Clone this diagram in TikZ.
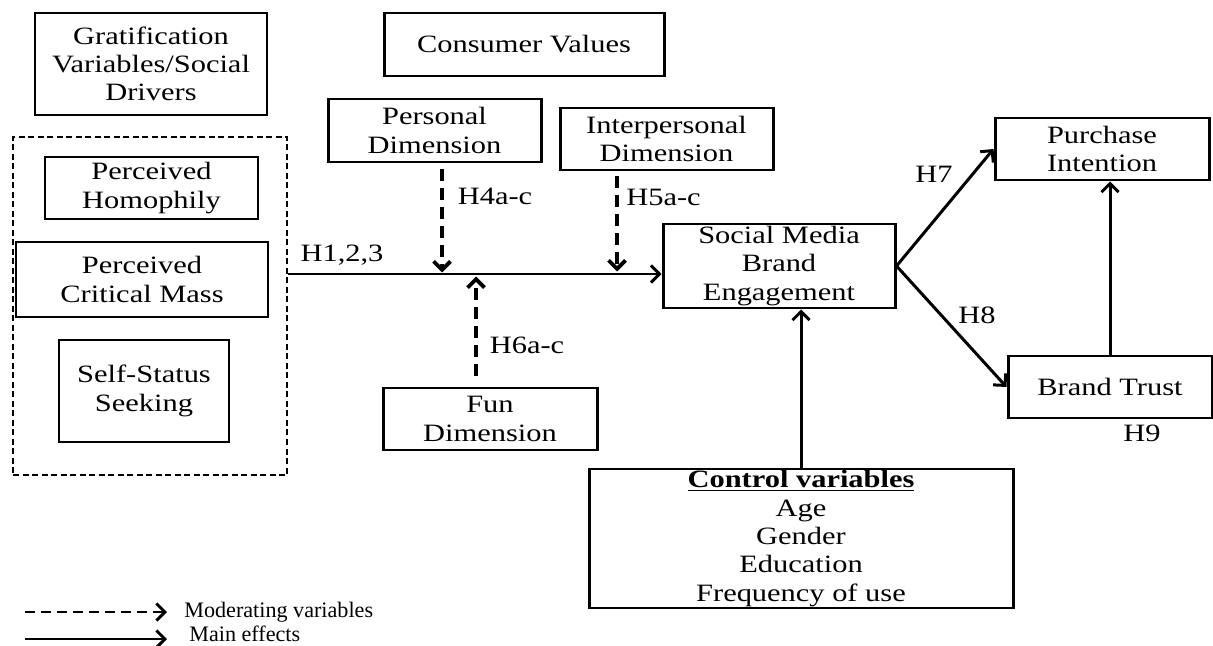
\documentclass[tikz,border=0pt]{standalone}
\usepackage{fontspec}
\setmainfont{Liberation Serif}[FakeStretch=1.22]
\newfontfamily\legendfont{Liberation Serif}
\usepackage{tikz}
\usetikzlibrary{arrows.meta}
\usetikzlibrary{positioning,calc}
\tikzset{
  every node/.style={font=\rmfamily}
}

\begin{document}
\begin{tikzpicture}
  \tikzset{
    box/.style={
      draw,
      line width=1.7pt,
      align=center,
      inner sep=0pt,
      font=\fontsize{14.2pt}{16.1pt}\selectfont
    },
    groupbox/.style={
      draw,
      line width=1.3pt,
      dash pattern=on 0.12cm off 0.07cm,
      inner sep=0pt
    },
    mainarrow/.style={
      line width=1.7pt,
      -{Straight Barb[length=1.7mm, width=3.4mm]}
    },
    modarrow/.style={
      line width=2.2pt,
      dash pattern=on 0.24cm off 0.14cm,
      -{Straight Barb[length=1.7mm, width=3.4mm]}
    },
    hyplabel/.style={
      font=\fontsize{14.2pt}{16.1pt}\selectfont,
      inner sep=0pt
    },
    legendtext/.style={
      font=\legendfont\fontsize{12.6pt}{14pt}\selectfont,
      anchor=base west,
      inner sep=0pt
    }
  }
  \useasboundingbox (0,0) rectangle (24.26,12.9);

  % Gratification variables / social drivers
  \node[box, minimum width=4.64cm, minimum height=2.04cm] (grat) at (3.02,11.62) {Gratification\\Variables/Social\\Drivers};
  \node[groupbox, minimum width=5.48cm, minimum height=6.76cm] (drivers) at (3.00,6.78) {};
  \node[box, minimum width=4.26cm, minimum height=1.24cm] (homophily) at (3.03,9.14) {Perceived\\Homophily};
  \node[box, minimum width=5.04cm, minimum height=1.5cm] (critmass) at (2.84,7.31) {Perceived\\Critical Mass};
  \node[box, minimum width=3.4cm, minimum height=2.04cm] (selfstatus) at (2.88,5.08) {Self-Status\\Seeking};

  % Consumer values
  \node[box, minimum width=5.6cm, minimum height=1.26cm] (values) at (10.48,12.01) {Consumer Values};
  \node[box, minimum width=4.26cm, minimum height=1.26cm] (personal) at (8.69,10.29) {Personal\\Dimension};
  \node[box, minimum width=4.26cm, minimum height=1.24cm] (interpersonal) at (13.33,10.12) {Interpersonal\\Dimension};
  \node[box, minimum width=4.28cm, minimum height=1.24cm] (fun) at (9.80,4.52) {Fun\\Dimension};

  % Outcomes
  \node[box, minimum width=4.64cm, minimum height=1.68cm] (smbe) at (15.58,7.58) {Social Media\\Brand\\Engagement};
  \node[box, minimum width=4.28cm, minimum height=1.24cm] (purchase) at (22.04,9.92) {Purchase\\Intention};
  \node[box, minimum width=4.08cm, minimum height=1.24cm] (trust) at (22.2,5.16) {Brand Trust};
  \node[box, minimum width=8.48cm, minimum height=2.78cm] (control) at (16.02,2.13) {\underline{\textbf{Control variables}}\\Age\\Gender\\Education\\Frequency of use};

  % Main effects
  \coordinate (mainy) at (0,7.42);
  \draw[mainarrow] (drivers.east |- mainy) -- (smbe.west |- mainy);
  \draw[mainarrow] (smbe.east) -- (purchase.west);
  \draw[mainarrow] (smbe.east) -- (trust.west);
  \draw[mainarrow] (trust.north) -- (trust.north |- purchase.south);
  \draw[mainarrow] (control.north) -- (control.north |- smbe.south);

  % Moderating effects
  \coordinate (h4end) at (8.84,7.45);
  \coordinate (h5end) at (12.34,7.47);
  \coordinate (h6end) at (9.52,7.37);
  \draw[modarrow] ([yshift=-0.12cm]personal.south -| h4end) -- (h4end);
  \draw[modarrow] ([yshift=-0.1cm]interpersonal.south -| h5end) -- (h5end);
  \draw[modarrow] ([yshift=0.22cm]fun.north -| h6end) -- (h6end);

  % Hypotheses
  \node[hyplabel] (h123) at (6.84,7.8) {H1,2,3};
  \node[hyplabel] (h4) at (9.9,8.98) {H4a-c};
  \node[hyplabel] (h5) at (13.27,8.96) {H5a-c};
  \node[hyplabel] (h6) at (10.54,6.0) {H6a-c};
  \node[hyplabel] (h7) at (18.68,9.42) {H7};
  \node[hyplabel] (h8) at (19.54,6.6) {H8};
  \node[hyplabel] (h9) at (22.84,4.24) {H9};

  % Legend
  \coordinate (legdash) at (0.5,0.66);
  \coordinate (legsolid) at (0.5,0.12);
  \node[legendtext] (legmod) at (3.68,0.56) {Moderating variables};
  \node[legendtext] (legmain) at (3.78,0.08) {Main effects};
  \draw[mainarrow, dash pattern=on 0.19cm off 0.13cm] (legdash) -- ([xshift=-0.34cm]legmod.west |- legdash);
  \draw[mainarrow] (legsolid) -- ([xshift=-0.44cm]legmain.west |- legsolid);
\end{tikzpicture}
\end{document}
